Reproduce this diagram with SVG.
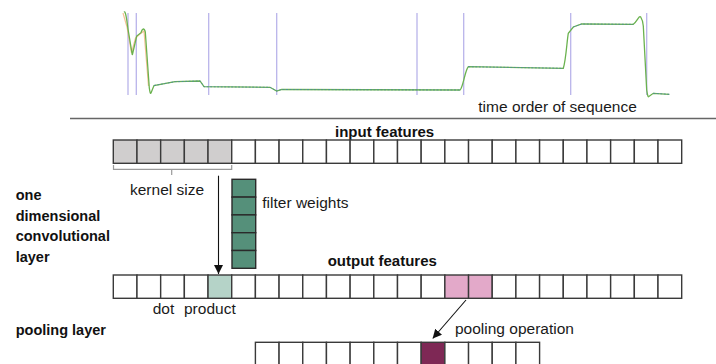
<svg xmlns="http://www.w3.org/2000/svg" width="716" height="364" viewBox="0 0 716 364">
<defs>
<style>
.lbl{font-family:"Liberation Sans",Arial,sans-serif;font-size:15.5px;fill:#1a1a1a}
.bold{font-family:"Liberation Sans",Arial,sans-serif;font-size:15px;font-weight:bold;fill:#111}
.side{font-family:"Liberation Sans",Arial,sans-serif;font-size:14.5px;font-weight:bold;fill:#111}
.cell{fill:#fff;stroke:#3a3a3a;stroke-width:1.4}
.gray{fill:#d0cece}
.wt{fill:#55907a;stroke:#2a2a2a;stroke-width:1.4}
.vl{stroke:#b9b4ea;stroke-width:1.3}
.conn{stroke:#111;stroke-width:1.1;fill:none}
</style>
<marker id="ah" viewBox="0 0 10 10" refX="10" refY="5" markerWidth="9" markerHeight="9" markerUnits="userSpaceOnUse" orient="auto">
<path d="M0,0 L10,5 L0,10 z" fill="#111"/>
</marker>
<rect id="c" width="23.68" height="23.3" class="cell"/>
</defs>
<rect width="716" height="364" fill="#fff"/>

<g id="chart">
<line class="vl" x1="128" y1="13" x2="128" y2="95"/>
<line class="vl" x1="136.3" y1="13" x2="136.3" y2="95"/>
<line class="vl" x1="208.7" y1="13" x2="208.7" y2="95"/>
<line class="vl" x1="276.7" y1="13" x2="276.7" y2="95"/>
<line class="vl" x1="417" y1="13" x2="417" y2="95"/>
<line class="vl" x1="463.7" y1="13" x2="463.7" y2="95"/>
<line class="vl" x1="570.7" y1="13" x2="570.7" y2="95"/>
<line class="vl" x1="646.7" y1="13" x2="646.7" y2="95"/>
<path d="M123,13 L127,27 L131.5,53 L135.5,38 L140,34 L144,31 L148.5,86" fill="none" stroke="#f2b27a" stroke-width="1.2" opacity="0.8"/>
<path d="M124,12 C125,11 126,13 128,29 L132.3,55 L136.7,36 L141,32.7 C142,29 144,27 145.3,32 L149.3,88 C150,93 150.5,94 151,93 L154,85.5 L175,81.7 L200,81 L204,86.7 L270,87.3 L276.7,91 L281.7,89.5 L460,90 C463,88 465,70 468.3,66.7 L563.3,68.3 C566,60 567,40 568.3,33.3 L573.3,27 L581.7,24 L633.3,24.3 C637,22 639,15 640.7,17 C642,19 643,22 643.3,26 L646.7,90 C647.5,95 648,97 648.5,96.7 L653.3,93.3 L669.3,94.3" fill="none" stroke="#6ab24e" stroke-width="1.3"/>
<path d="M154,85.5 L175,81.7 L200,81 L204,86.7 L270,87.3 L276.7,91 L281.7,89.5 L460,90 M468.3,66.7 L563.3,68.3 M573.3,27 L581.7,24 L633.3,24.3 M653.3,93.3 L669.3,94.3" fill="none" stroke="#4f8c98" stroke-width="0.9" stroke-dasharray="2 1.5"/>
<text class="lbl" x="478.3" y="111.7">time order of sequence</text>
</g>

<line x1="70" y1="118.5" x2="716" y2="118.5" stroke="#666" stroke-width="1.3"/>

<g id="input-features">
<text class="bold" x="335" y="136.5">input features</text>
<rect x="113.3" y="140" width="23.68" height="23.3" class="cell gray"/>
<rect x="136.98" y="140" width="23.68" height="23.3" class="cell gray"/>
<rect x="160.67" y="140" width="23.68" height="23.3" class="cell gray"/>
<rect x="184.35" y="140" width="23.68" height="23.3" class="cell gray"/>
<rect x="208.03" y="140" width="23.68" height="23.3" class="cell gray"/>
<use href="#c" x="231.72" y="140"/>
<use href="#c" x="255.40" y="140"/>
<use href="#c" x="279.08" y="140"/>
<use href="#c" x="302.76" y="140"/>
<use href="#c" x="326.45" y="140"/>
<use href="#c" x="350.13" y="140"/>
<use href="#c" x="373.81" y="140"/>
<use href="#c" x="397.50" y="140"/>
<use href="#c" x="421.18" y="140"/>
<use href="#c" x="444.86" y="140"/>
<use href="#c" x="468.55" y="140"/>
<use href="#c" x="492.23" y="140"/>
<use href="#c" x="515.91" y="140"/>
<use href="#c" x="539.59" y="140"/>
<use href="#c" x="563.28" y="140"/>
<use href="#c" x="586.96" y="140"/>
<use href="#c" x="610.64" y="140"/>
<use href="#c" x="634.33" y="140"/>
<use href="#c" x="658.01" y="140"/>
</g>

<g id="kernel-size">
<path d="M113.5,165 V169.3 H231.7 V165 M171.7,169.3 V175" fill="none" stroke="#9a9a9a" stroke-width="1.2"/>
<text class="lbl" x="130" y="195">kernel size</text>
</g>

<g id="filter-weights">
<rect class="wt" x="232" y="179.3" width="23.7" height="17.8"/>
<rect class="wt" x="232" y="197.1" width="23.7" height="17.8"/>
<rect class="wt" x="232" y="214.9" width="23.7" height="17.8"/>
<rect class="wt" x="232" y="232.7" width="23.7" height="17.8"/>
<rect class="wt" x="232" y="250.5" width="23.7" height="17.8"/>
<text class="lbl" x="262.3" y="208">filter weights</text>
</g>

<g id="conv-label">
<text class="side" x="15.7" y="200">one</text>
<text class="side" x="15.7" y="220.5">dimensional</text>
<text class="side" x="15.7" y="241">convolutional</text>
<text class="side" x="15.7" y="261.5">layer</text>
</g>

<g id="output-features">
<text class="bold" x="327.7" y="265.5">output features</text>
<use href="#c" x="113.3" y="275"/>
<use href="#c" x="136.98" y="275"/>
<use href="#c" x="160.67" y="275"/>
<use href="#c" x="184.35" y="275"/>
<rect x="208.03" y="275" width="23.68" height="23.3" class="cell" style="fill:#b5d3c8"/>
<use href="#c" x="231.72" y="275"/>
<use href="#c" x="255.40" y="275"/>
<use href="#c" x="279.08" y="275"/>
<use href="#c" x="302.76" y="275"/>
<use href="#c" x="326.45" y="275"/>
<use href="#c" x="350.13" y="275"/>
<use href="#c" x="373.81" y="275"/>
<use href="#c" x="397.50" y="275"/>
<use href="#c" x="421.18" y="275"/>
<rect x="444.86" y="275" width="23.68" height="23.3" class="cell" style="fill:#e3a9c9"/>
<rect x="468.55" y="275" width="23.68" height="23.3" class="cell" style="fill:#e3a9c9"/>
<use href="#c" x="492.23" y="275"/>
<use href="#c" x="515.91" y="275"/>
<use href="#c" x="539.59" y="275"/>
<use href="#c" x="563.28" y="275"/>
<use href="#c" x="586.96" y="275"/>
<use href="#c" x="610.64" y="275"/>
<use href="#c" x="634.33" y="275"/>
<use href="#c" x="658.01" y="275"/>
<text class="lbl" x="152.7" y="313.5">dot<tspan x="184">product</tspan></text>
</g>

<g id="pooling-label">
<text class="side" x="15.7" y="335">pooling layer</text>
</g>

<g id="pooled-features">
<use href="#c" x="255.40" y="342.3"/>
<use href="#c" x="279.08" y="342.3"/>
<use href="#c" x="302.76" y="342.3"/>
<use href="#c" x="326.45" y="342.3"/>
<use href="#c" x="350.13" y="342.3"/>
<use href="#c" x="373.81" y="342.3"/>
<use href="#c" x="397.50" y="342.3"/>
<rect x="421.18" y="342.3" width="23.68" height="23.3" class="cell" style="fill:#7e2855"/>
<use href="#c" x="444.86" y="342.3"/>
<use href="#c" x="468.55" y="342.3"/>
<use href="#c" x="492.23" y="342.3"/>
<use href="#c" x="515.91" y="342.3"/>
<text class="lbl" x="455" y="333.5">pooling operation</text>
</g>

<g id="connectors">
<line class="conn" x1="218.5" y1="175.7" x2="218.5" y2="274" marker-end="url(#ah)"/>
<line class="conn" x1="466" y1="300" x2="432.7" y2="338.5" marker-end="url(#ah)"/>
</g>
</svg>
